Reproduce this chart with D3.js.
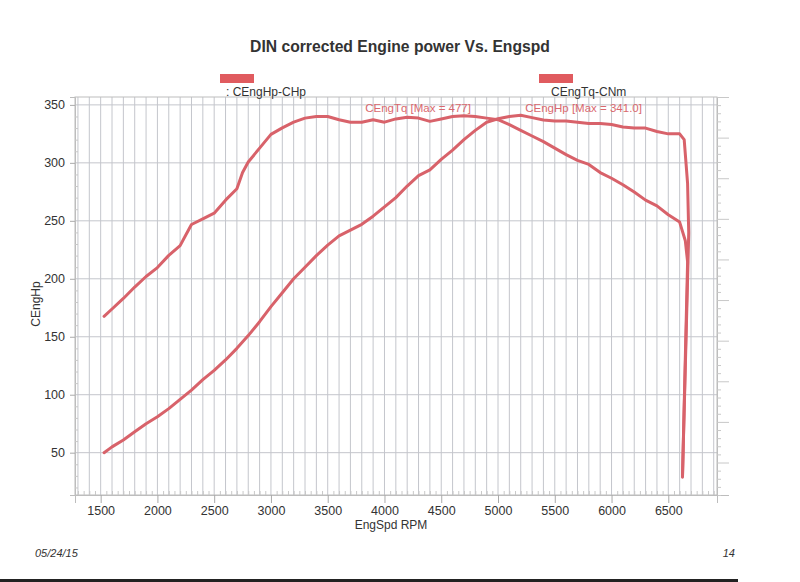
<!DOCTYPE html>
<html><head><meta charset="utf-8">
<script src="https://cdn.jsdelivr.net/npm/d3@7"></script>
<style>html,body{margin:0;padding:0;background:#fff;}svg{display:block;}</style>
</head><body>
<svg id="chart" width="800" height="582"></svg>
<script>
// ---- data ----
const hpRpm = [1530,1600,1700,1800,1900,2000,2100,2200,2300,2400,2500,2600,2700,2800,2900,3000,3100,3200,3300,3400,3500,3600,3700,3800,3900,4000,4100,4200,4300,4400,4500,4600,4700,4800,4900,5000,5100,5200,5300,5400,5500,5600,5700,5800,5900,6000,6100,6200,6300,6400,6500,6600,6640,6670,6680,6670,6625];
const hpValues = [50,55,61,68,75,81,88,96,104,113,121,130,140,151,163,176,188,200,210,220,229,237,242,247,254,262,270,280,289,294,303,311,320,328,335,338,340,341,339,337,336,336,335,334,334,333,331,330,330,327,325,325,320,282,240,200,30];
const tqRpm = [1530,1600,1700,1800,1900,2000,2100,2200,2250,2300,2400,2500,2600,2700,2750,2800,2900,3000,3100,3200,3300,3400,3500,3600,3700,3800,3900,4000,4100,4200,4300,4400,4500,4600,4700,4800,4900,5000,5100,5200,5300,5400,5500,5600,5700,5800,5900,6000,6100,6200,6300,6400,6500,6600,6650,6670,6625];
const tqValues = [230,239,252,266,279,290,305,317,330,343,350,357,373,387,407,420,437,454,462,469,474,476,476,472,469,469,472,469,473,475,474,470,473,476,477,476,474,472,466,459,452,445,437,429,422,417,407,400,392,383,373,366,355,346,323,297,32];
const xTicks = [1500,2000,2500,3000,3500,4000,4500,5000,5500,6000,6500];
const yTicks = [50,100,150,200,250,300,350];
const xDomain = [1274, 6929];
const yDomain = [13.5, 356.8];
const y2Domain = [10, 500];
const titleText = "DIN corrected Engine power Vs. Engspd";
const legendLabels = [": CEngHp-CHp", "CEngTq-CNm"];
const maxLabels = ["CEngTq [Max = 477]", "CEngHp [Max = 341.0]"];

// ---- layout ----
const svg = d3.select("#chart");
const L = 75, R = 717, T = 97, B = 495;
const x = d3.scaleLinear().domain(xDomain).range([L, R]);
const y = d3.scaleLinear().domain(yDomain).range([B, T]);
const y2 = d3.scaleLinear().domain(y2Domain).range([B, T]);
const red = "#d8626a";
const grid = "#c4c6cc";
const font = "Liberation Sans, Arial, sans-serif";

svg.append("rect").attr("width",800).attr("height",582).attr("fill","#fff");

// vertical grid every 100 rpm
const vg = d3.range(1300, 6901, 100);
svg.append("g").selectAll("line").data(vg).join("line")
  .attr("x1", d=>x(d)).attr("x2", d=>x(d)).attr("y1", T).attr("y2", B)
  .attr("stroke", grid).attr("stroke-width", 1);
// horizontal grid at major ticks
svg.append("g").selectAll("line").data(yTicks).join("line")
  .attr("x1", L).attr("x2", R).attr("y1", d=>y(d)).attr("y2", d=>y(d))
  .attr("stroke", grid).attr("stroke-width", 1);

// frame
svg.append("rect").attr("x", L).attr("y", T).attr("width", R-L).attr("height", B-T)
  .attr("fill","none").attr("stroke","#bdbdbd").attr("stroke-width",1);

// left axis
const yAxis = d3.axisLeft(y).tickValues(yTicks).tickSize(5).tickPadding(5);
const gy = svg.append("g").attr("transform", `translate(${L},0)`).call(yAxis);
gy.select(".domain").attr("stroke","#bdbdbd");
gy.selectAll(".tick line").attr("stroke","#aaa");
gy.selectAll("text").attr("font-family", font).attr("font-size", 12.5).attr("fill","#333");
// left minor ticks
const yMinor = d3.range(20, 357, 10).filter(v => v % 50 !== 0);
svg.append("g").attr("transform", `translate(${L},0)`)
  .call(d3.axisRight(y).tickValues(yMinor).tickSize(3).tickFormat(""))
  .call(g => { g.select(".domain").remove(); g.selectAll(".tick line").attr("stroke","#c8c8c8"); });

// right axis (torque, no labels)
const gy2 = svg.append("g").attr("transform", `translate(${R},0)`)
  .call(d3.axisRight(y2).tickValues(d3.range(50, 501, 50)).tickSize(12).tickFormat(""));
gy2.select(".domain").attr("stroke","#bdbdbd");
gy2.selectAll(".tick line").attr("stroke","#c8c8c8");
svg.append("g").attr("transform", `translate(${R},0)`)
  .call(d3.axisRight(y2).tickValues(d3.range(10, 500, 10).filter(v=>v%50!==0)).tickSize(4).tickFormat(""))
  .call(g => { g.select(".domain").remove(); g.selectAll(".tick line").attr("stroke","#c8c8c8"); });

// bottom axis
const xAxis = d3.axisBottom(x).tickValues(xTicks).tickSize(8).tickPadding(3).tickFormat(d3.format("d"));
const gx = svg.append("g").attr("transform", `translate(0,${B})`).call(xAxis);
gx.select(".domain").attr("stroke","#bdbdbd");
gx.selectAll(".tick line").attr("stroke","#aaa");
gx.selectAll("text").attr("font-family", font).attr("font-size", 12.5).attr("fill","#333");
svg.append("g").attr("transform", `translate(0,${B})`)
  .call(d3.axisTop(x).tickValues(d3.range(1300, 6901, 50).filter(v=>!xTicks.includes(v))).tickSize(4).tickFormat(""))
  .call(g => { g.select(".domain").remove(); g.selectAll(".tick line").attr("stroke","#c8c8c8"); });

// curves
const hpData = hpRpm.map((r,i)=>[r, hpValues[i]]);
const tqData = tqRpm.map((r,i)=>[r, tqValues[i]]);
const lineHp = d3.line().x(d=>x(d[0])).y(d=>y(d[1])).curve(d3.curveLinear);
const lineTq = d3.line().x(d=>x(d[0])).y(d=>y2(d[1])).curve(d3.curveLinear);
svg.append("path").datum(tqData).attr("d", lineTq).attr("fill","none")
  .attr("stroke", red).attr("stroke-width", 3).attr("stroke-linejoin","round").attr("stroke-linecap","round");
svg.append("path").datum(hpData).attr("d", lineHp).attr("fill","none")
  .attr("stroke", red).attr("stroke-width", 3).attr("stroke-linejoin","round").attr("stroke-linecap","round");

// max labels
svg.append("text").attr("x", x(3830)).attr("y", 112).text(maxLabels[0])
  .attr("font-family", font).attr("font-size", 11.5).attr("fill", "#d9686e");
svg.append("text").attr("x", x(5240)).attr("y", 112).text(maxLabels[1])
  .attr("font-family", font).attr("font-size", 11.5).attr("fill", "#d9686e");

// title
svg.append("text").attr("x", 400).attr("y", 52).attr("text-anchor","middle")
  .attr("font-family", font).attr("font-weight","bold").attr("font-size", 15.7).attr("fill","#333")
  .text(titleText);

// legend
const legX = [220, 539], legTX = [226, 551];
legendLabels.forEach((t,i)=>{
  svg.append("rect").attr("x", legX[i]).attr("y", 74).attr("width", 34).attr("height", 9).attr("fill", "#e05b5f");
  svg.append("text").attr("x", legTX[i]).attr("y", 96).text(t)
    .attr("font-family", font).attr("font-size", 12).attr("fill","#333");
});

// axis titles
svg.append("text").attr("transform", "translate(40,304) rotate(-90)").attr("text-anchor","middle")
  .attr("font-family", font).attr("font-size", 12).attr("fill","#333").text("CEngHp");
svg.append("text").attr("x", 391).attr("y", 529).attr("text-anchor","middle")
  .attr("font-family", font).attr("font-size", 12).attr("fill","#333").text("EngSpd RPM");

// footer
svg.append("text").attr("x", 35).attr("y", 557).attr("font-family", font).attr("font-style","italic")
  .attr("font-size", 11).attr("fill","#333").text("05/24/15");
svg.append("text").attr("x", 735).attr("y", 557).attr("text-anchor","end").attr("font-family", font).attr("font-style","italic")
  .attr("font-size", 11).attr("fill","#333").text("14");
svg.append("rect").attr("x",0).attr("y",579).attr("width",738).attr("height",3).attr("fill","#222");
</script>
</body></html>
